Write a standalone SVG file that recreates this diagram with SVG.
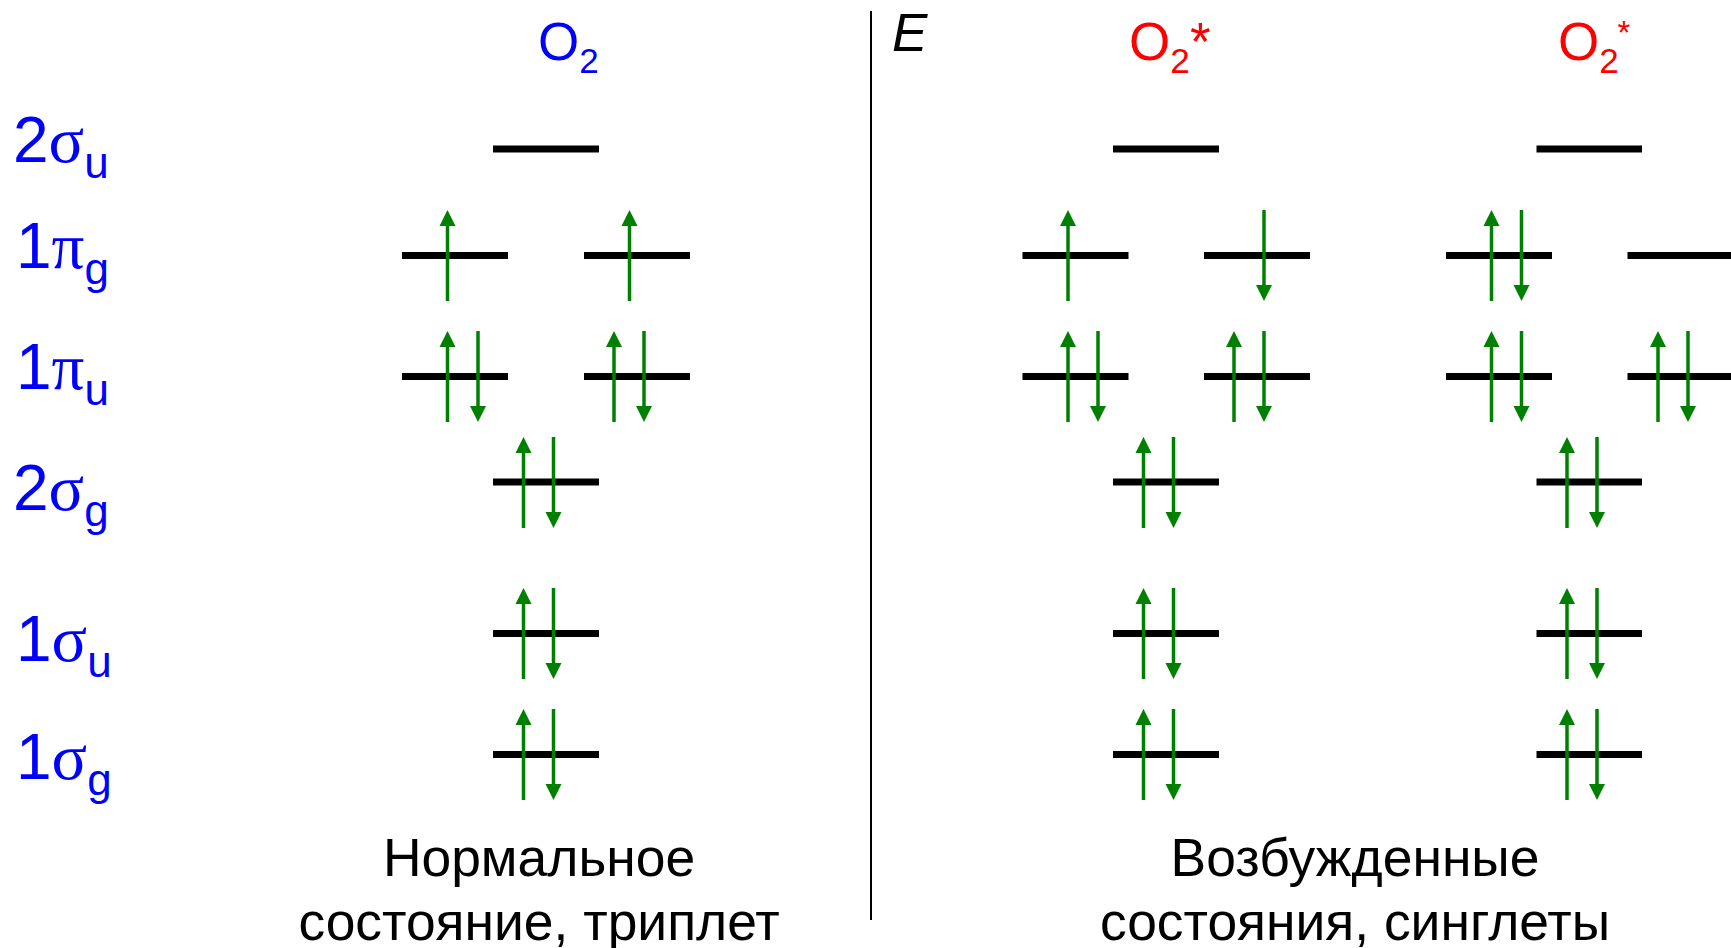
<svg xmlns="http://www.w3.org/2000/svg" width="1731" height="948" viewBox="0 0 1731 948">
<style>
text{font-family:"Liberation Sans",Arial,sans-serif}
.lv{stroke:#000;stroke-width:7;fill:none}
.a{stroke:#008000;stroke-width:3.5;fill:none}
.u{marker-end:url(#h)}
.orb{fill:#00f;font-size:64px}
.gr{font-family:"Liberation Serif","DejaVu Serif",serif;font-size:66px}
.pi{font-family:"Liberation Serif","DejaVu Serif",serif;font-size:65px}
.sub{font-size:44px}
.cap{fill:#000;font-size:53.400px;text-anchor:middle}
.blue{fill:#00f;font-size:53px}
.red{fill:#f00;font-size:53px}
.s2{font-size:35px}
</style>
<defs>
<marker id="h" markerUnits="userSpaceOnUse" markerWidth="16" markerHeight="17" refX="0" refY="8" orient="auto" overflow="visible"><path d="M0 0L16 8L0 16Z" fill="#008000"/></marker>
</defs>
<rect width="1731" height="948" fill="#fff"/>
<g id="labels">
<text id="l1" class="orb" x="13" y="162">2<tspan class="gr">σ</tspan><tspan class="sub" dy="16">u</tspan></text>
<text id="l2" class="orb" x="16" y="268">1<tspan class="pi">π</tspan><tspan class="sub" dy="16">g</tspan></text>
<text id="l3" class="orb" x="16" y="389">1<tspan class="pi">π</tspan><tspan class="sub" dy="16">u</tspan></text>
<text id="l4" class="orb" x="13" y="510">2<tspan class="gr">σ</tspan><tspan class="sub" dy="16">g</tspan></text>
<text id="l5" class="orb" x="16" y="661">1<tspan class="gr">σ</tspan><tspan class="sub" dy="16">u</tspan></text>
<text id="l6" class="orb" x="16" y="779">1<tspan class="gr">σ</tspan><tspan class="sub" dy="16">g</tspan></text>
</g>
<text id="o2" class="blue" x="538" y="60">O<tspan class="s2" dy="13">2</tspan></text>
<text id="o2s1" class="red" x="1129" y="60">O<tspan class="s2" dy="13">2</tspan><tspan x="1190" y="60" font-size="53">*</tspan></text>
<text id="o2s2" class="red" x="1558" y="60">O<tspan class="s2" dy="13">2</tspan><tspan x="1617.500" y="44" font-size="33">*</tspan></text>
<text id="e" x="892" y="51" font-size="53" font-style="italic" fill="#000">E</text>
<line id="axis" x1="871" y1="11" x2="871" y2="920" stroke="#000" stroke-width="2"/>
<g id="n-left-2su"><line class="lv" x1="493" y1="149" x2="599" y2="149"/></g>
<g id="n-left-1pg-a"><line class="lv" x1="402" y1="255.500" x2="508" y2="255.500"/></g>
<g id="n-left-1pg-b"><line class="lv" x1="584" y1="255.500" x2="690" y2="255.500"/></g>
<g id="n-left-1pu-a"><line class="lv" x1="402" y1="376.500" x2="508" y2="376.500"/></g>
<g id="n-left-1pu-b"><line class="lv" x1="584" y1="376.500" x2="690" y2="376.500"/></g>
<g id="n-left-2sg"><line class="lv" x1="493" y1="482" x2="599" y2="482"/></g>
<g id="n-left-1su"><line class="lv" x1="493" y1="633.500" x2="599" y2="633.500"/></g>
<g id="n-left-1sg"><line class="lv" x1="493" y1="754.500" x2="599" y2="754.500"/></g>
<g id="n-m-2su"><line class="lv" x1="1113" y1="149" x2="1219" y2="149"/></g>
<g id="n-m-1pg-a"><line class="lv" x1="1022.500" y1="255.500" x2="1128.500" y2="255.500"/></g>
<g id="n-m-1pg-b"><line class="lv" x1="1204" y1="255.500" x2="1310" y2="255.500"/></g>
<g id="n-m-1pu-a"><line class="lv" x1="1022.500" y1="376.500" x2="1128.500" y2="376.500"/></g>
<g id="n-m-1pu-b"><line class="lv" x1="1204" y1="376.500" x2="1310" y2="376.500"/></g>
<g id="n-m-2sg"><line class="lv" x1="1113" y1="482" x2="1219" y2="482"/></g>
<g id="n-m-1su"><line class="lv" x1="1113" y1="633.500" x2="1219" y2="633.500"/></g>
<g id="n-m-1sg"><line class="lv" x1="1113" y1="754.500" x2="1219" y2="754.500"/></g>
<g id="n-r-2su"><line class="lv" x1="1536.500" y1="149" x2="1642" y2="149"/></g>
<g id="n-r-1pg-a"><line class="lv" x1="1446" y1="255.500" x2="1552" y2="255.500"/></g>
<g id="n-r-1pg-b"><line class="lv" x1="1627.500" y1="255.500" x2="1733" y2="255.500"/></g>
<g id="n-r-1pu-a"><line class="lv" x1="1446" y1="376.500" x2="1552" y2="376.500"/></g>
<g id="n-r-1pu-b"><line class="lv" x1="1627.500" y1="376.500" x2="1733" y2="376.500"/></g>
<g id="n-r-2sg"><line class="lv" x1="1536.500" y1="482" x2="1642" y2="482"/></g>
<g id="n-r-1su"><line class="lv" x1="1536.500" y1="633.500" x2="1642" y2="633.500"/></g>
<g id="n-r-1sg"><line class="lv" x1="1536.500" y1="754.500" x2="1642" y2="754.500"/></g>
<g id="connectors">
<line class="a u" x1="447.500" y1="301" x2="447.500" y2="226"/>
<line class="a u" x1="629.500" y1="301" x2="629.500" y2="226"/>
<line class="a u" x1="447.500" y1="422" x2="447.500" y2="347"/>
<line class="a u" x1="478" y1="331" x2="478" y2="406"/>
<line class="a u" x1="614" y1="422" x2="614" y2="347"/>
<line class="a u" x1="644" y1="331" x2="644" y2="406"/>
<line class="a u" x1="523.500" y1="528" x2="523.500" y2="453"/>
<line class="a u" x1="553.500" y1="437" x2="553.500" y2="512"/>
<line class="a u" x1="523.500" y1="679" x2="523.500" y2="604"/>
<line class="a u" x1="553.500" y1="588" x2="553.500" y2="663"/>
<line class="a u" x1="523.500" y1="800" x2="523.500" y2="725"/>
<line class="a u" x1="553.500" y1="709" x2="553.500" y2="784"/>
<line class="a u" x1="1068" y1="301" x2="1068" y2="226"/>
<line class="a u" x1="1264" y1="210" x2="1264" y2="285"/>
<line class="a u" x1="1068" y1="422" x2="1068" y2="347"/>
<line class="a u" x1="1098" y1="331" x2="1098" y2="406"/>
<line class="a u" x1="1234" y1="422" x2="1234" y2="347"/>
<line class="a u" x1="1264" y1="331" x2="1264" y2="406"/>
<line class="a u" x1="1143.500" y1="528" x2="1143.500" y2="453"/>
<line class="a u" x1="1173.500" y1="437" x2="1173.500" y2="512"/>
<line class="a u" x1="1143.500" y1="679" x2="1143.500" y2="604"/>
<line class="a u" x1="1173.500" y1="588" x2="1173.500" y2="663"/>
<line class="a u" x1="1143.500" y1="800" x2="1143.500" y2="725"/>
<line class="a u" x1="1173.500" y1="709" x2="1173.500" y2="784"/>
<line class="a u" x1="1491.500" y1="301" x2="1491.500" y2="226"/>
<line class="a u" x1="1521.500" y1="210" x2="1521.500" y2="285"/>
<line class="a u" x1="1491.500" y1="422" x2="1491.500" y2="347"/>
<line class="a u" x1="1521.500" y1="331" x2="1521.500" y2="406"/>
<line class="a u" x1="1658" y1="422" x2="1658" y2="347"/>
<line class="a u" x1="1688" y1="331" x2="1688" y2="406"/>
<line class="a u" x1="1567" y1="528" x2="1567" y2="453"/>
<line class="a u" x1="1597" y1="437" x2="1597" y2="512"/>
<line class="a u" x1="1567" y1="679" x2="1567" y2="604"/>
<line class="a u" x1="1597" y1="588" x2="1597" y2="663"/>
<line class="a u" x1="1567" y1="800" x2="1567" y2="725"/>
<line class="a u" x1="1597" y1="709" x2="1597" y2="784"/>
</g>
<g id="captions">
<text class="cap" x="539" y="876">Нормальное</text>
<text class="cap" x="539" y="940">состояние, триплет</text>
<text class="cap" x="1355" y="876">Возбужденные</text>
<text class="cap" x="1355" y="940">состояния, синглеты</text>
</g>
</svg>
